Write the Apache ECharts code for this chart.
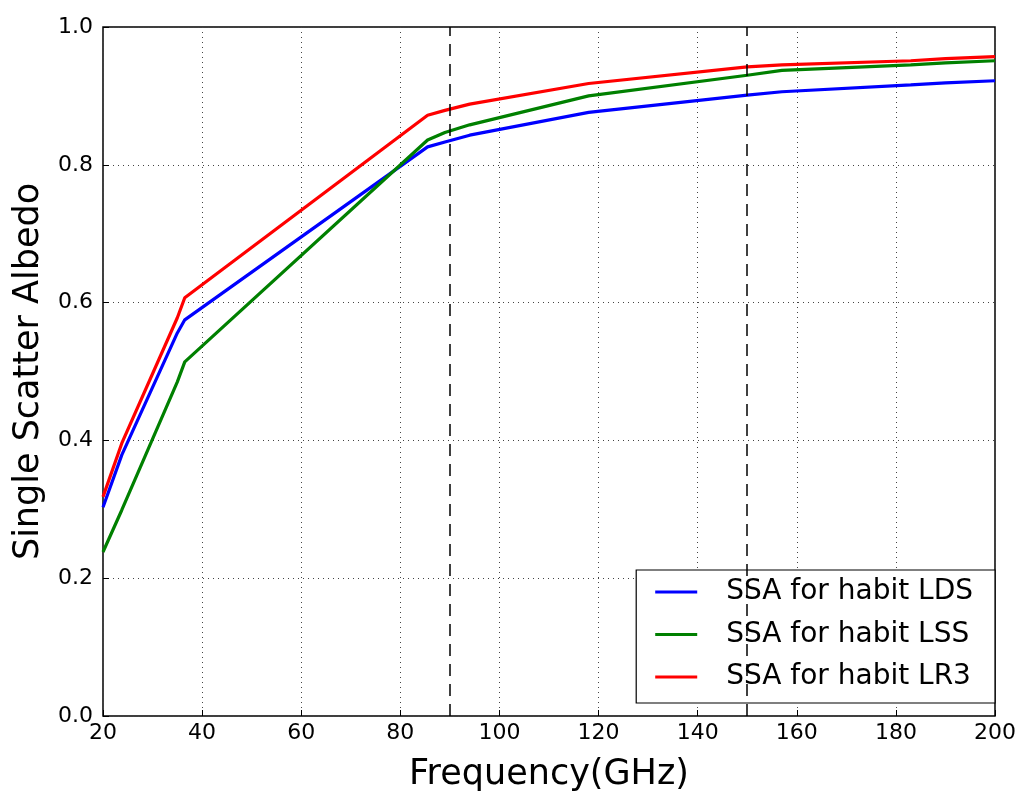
<!doctype html>
<html>
<head>
<meta charset="utf-8">
<title>Single Scatter Albedo</title>
<style>
html, body { margin: 0; padding: 0; background: #fff; }
#main { width: 1020px; height: 791px; }
</style>
</head>
<body>
<div id="main"></div>
<script src="https://cdn.jsdelivr.net/npm/echarts@6/dist/echarts.min.js"></script>
<script>
var freq = [20, 23.8, 35, 36.5, 85.5, 89, 94, 118, 150, 157, 183, 190, 200];
var ssaLDS = [0.303, 0.379, 0.556, 0.575, 0.826, 0.833, 0.843, 0.876, 0.901, 0.906, 0.916, 0.919, 0.922];
var ssaLSS = [0.238, 0.299, 0.485, 0.514, 0.836, 0.847, 0.858, 0.900, 0.930, 0.937, 0.945, 0.948, 0.951];
var ssaLR3 = [0.318, 0.396, 0.578, 0.607, 0.872, 0.879, 0.888, 0.918, 0.942, 0.945, 0.951, 0.954, 0.957];
var names = ['SSA for habit LDS', 'SSA for habit LSS', 'SSA for habit LR3'];
var colors = ['#0000ff', '#008000', '#ff0000'];
var markFreq = [90, 150];

function pairs(vals) {
    return freq.map(function (f, i) { return [f, vals[i]]; });
}

var chart = echarts.init(document.getElementById('main'));

var font = 'DejaVu Sans';

var series = [ssaLDS, ssaLSS, ssaLR3].map(function (vals, i) {
    return {
        name: names[i],
        type: 'line',
        data: pairs(vals),
        symbol: 'none',
        lineStyle: { color: colors[i], width: 3.2 },
        itemStyle: { color: colors[i] },
        z: 3
    };
});

// vertical dashed lines
series[0].markLine = {
    silent: true,
    symbol: 'none',
    label: { show: false },
    lineStyle: { color: '#000', type: [12, 8], width: 1.5 },
    data: markFreq.map(function (f) { return { xAxis: f }; })
};

chart.setOption({
    animation: false,
    backgroundColor: '#fff',
    grid: {
        left: 103, right: 25, top: 27, bottom: 75,
        outerBoundsMode: 'none',
        containLabel: false,
        show: true, borderColor: '#000', borderWidth: 1.5
    },
    legend: {
        data: names,
        orient: 'vertical',
        right: 25, bottom: 88,
        backgroundColor: '#fff',
        borderColor: '#000',
        borderWidth: 1.2,
        borderRadius: 0,
        padding: [8, 22, 12, 19],
        itemWidth: 42,
        itemHeight: 3,
        itemGap: 14.5,
        icon: 'rect',
        itemStyle: { borderWidth: 0 },
        lineStyle: { width: 0 },
        textStyle: { fontFamily: font, fontSize: 28, lineHeight: 28, color: '#000', padding: [0, 0, 0, 24] }
    },
    xAxis: {
        type: 'value',
        min: 20, max: 200, interval: 20,
        name: 'Frequency(GHz)',
        nameLocation: 'middle',
        nameGap: 41,
        nameTextStyle: { fontFamily: font, fontSize: 35, color: '#000' },
        axisLine: { show: false },
        axisTick: { inside: true, length: 6, lineStyle: { color: '#000' } },
        axisLabel: { fontFamily: font, fontSize: 22, color: '#000', margin: 6 },
        splitLine: { show: true, lineStyle: { color: '#444', type: [1, 4], width: 1 } }
    },
    yAxis: {
        type: 'value',
        min: 0, max: 1, interval: 0.2,
        name: 'Single Scatter Albedo',
        nameLocation: 'middle',
        nameGap: 57,
        nameTextStyle: { fontFamily: font, fontSize: 35, color: '#000' },
        axisLine: { show: false },
        axisTick: { inside: true, length: 6, lineStyle: { color: '#000' } },
        axisLabel: {
            fontFamily: font, fontSize: 22, color: '#000', margin: 10,
            formatter: function (v) { return v.toFixed(1); }
        },
        splitLine: { show: true, lineStyle: { color: '#444', type: [1, 4], width: 1 } }
    },
    series: series
});
</script>
</body>
</html>
